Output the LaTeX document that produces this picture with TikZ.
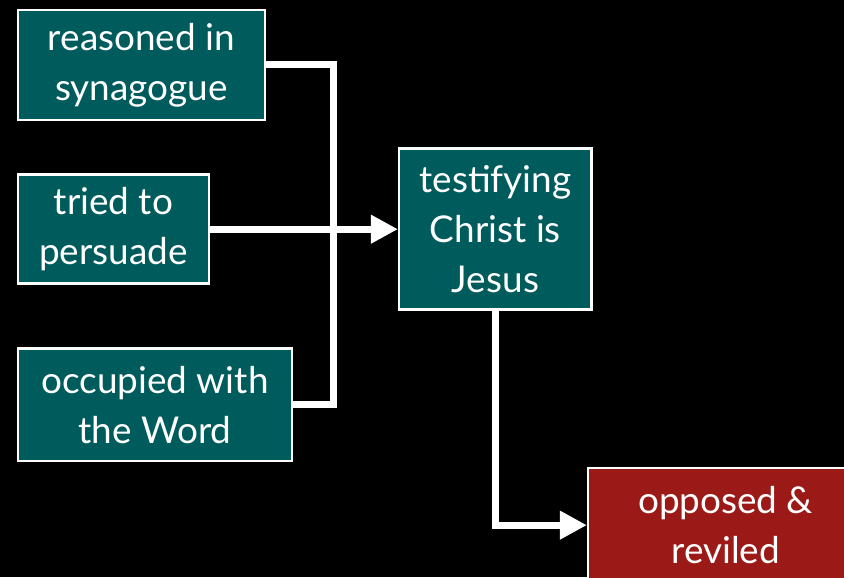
\documentclass[tikz,border=0pt]{standalone}
\usepackage{fontspec}
\setmainfont{Lato}
\usetikzlibrary{positioning, arrows.meta}

\definecolor{slideteal}{HTML}{005B5C}
\definecolor{slidered}{HTML}{9B1A17}

\tikzset{
  event/.style={draw=white, line width=1.4pt, fill=slideteal, text=white, align=center, inner sep=0pt, font=\fontsize{21}{28.5}\selectfont},
  link/.style={draw=white, line width=4pt},
  arrowed/.style={-{Triangle[length=0.54cm, width=0.54cm]}}
}

\begin{document}
\begin{tikzpicture}
\fill[black] (0,0) rectangle (16.88,-11.54);
\useasboundingbox (0,0) rectangle (16.88,-11.54);

\node[event, minimum width=4.93cm, minimum height=2.19cm, anchor=north west] (reasoned) at (0.34,-0.18) {reasoned in\\synagogue};
\node[event, minimum width=3.81cm, minimum height=2.18cm, below=1.05cm of reasoned.south west, anchor=north west] (persuade) {tried to\\persuade};
\node[event, minimum width=5.47cm, minimum height=2.25cm, below=1.25cm of persuade.south west, anchor=north west] (occupied) {occupied with\\the Word};

\node[event, minimum width=3.85cm, minimum height=3.22cm, right=3.76cm of persuade] (testifying) {testifying\\Christ is\\Jesus};
\node[event, fill=slidered, minimum width=5.5cm, minimum height=2.28cm, below=3.12cm of testifying.south east, anchor=north west, xshift=-0.12cm] (opposed) {opposed \&\\reviled};

% the three left boxes meet here
\coordinate[right=2.48cm of persuade] (join);

\draw[link] (reasoned) -| (join) |- (occupied);
\draw[link, arrowed] (persuade) -- (testifying);
\draw[link, arrowed] (testifying) |- (opposed);
\end{tikzpicture}
\end{document}
